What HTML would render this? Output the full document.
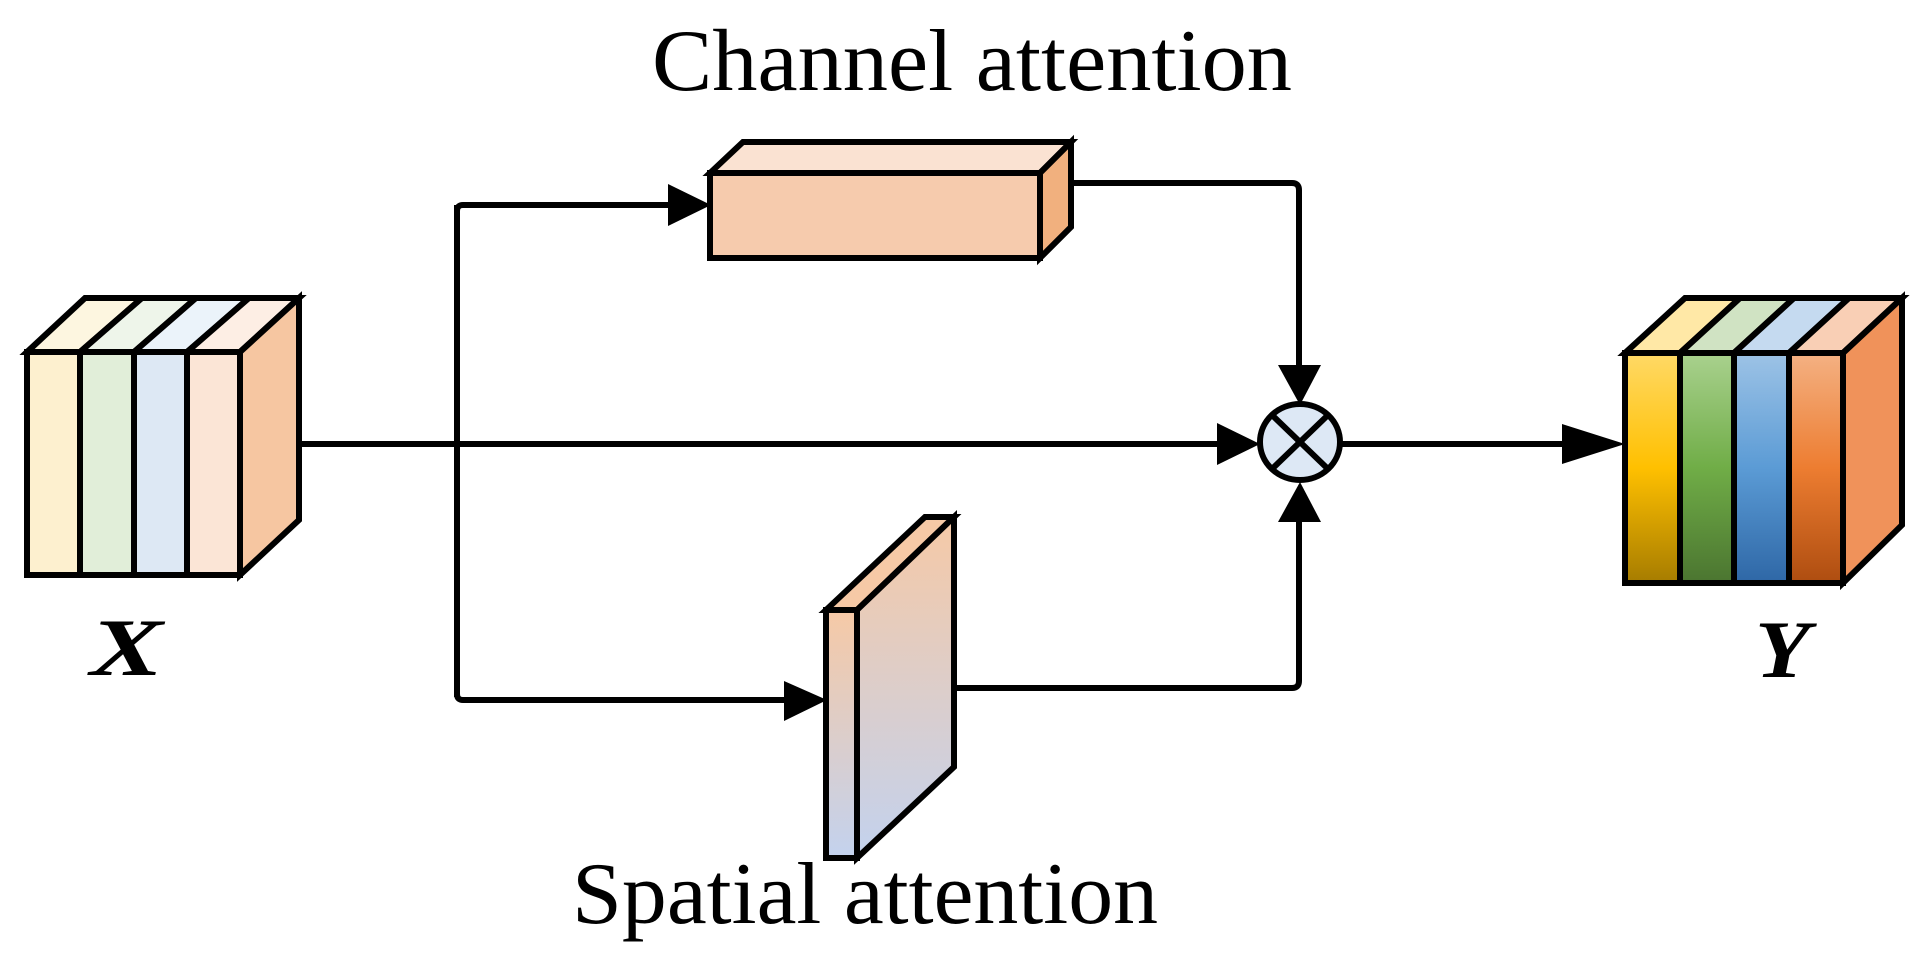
<!DOCTYPE html>
<html><head><meta charset="utf-8"><style>
html,body{margin:0;padding:0;background:#fff;width:1925px;height:975px;overflow:hidden}
svg{display:block}
text{font-family:"Liberation Serif",serif;fill:#000}
</style></head><body>
<svg width="1925" height="975" viewBox="0 0 1925 975" xmlns="http://www.w3.org/2000/svg">
<defs>
<linearGradient id="gy" x1="0" y1="0" x2="0" y2="1"><stop offset="0" stop-color="#ffd966"/><stop offset="0.5" stop-color="#ffc000"/><stop offset="1" stop-color="#a67c00"/></linearGradient>
<linearGradient id="gg" x1="0" y1="0" x2="0" y2="1"><stop offset="0" stop-color="#a9d18e"/><stop offset="0.5" stop-color="#70ad47"/><stop offset="1" stop-color="#4b7530"/></linearGradient>
<linearGradient id="gb" x1="0" y1="0" x2="0" y2="1"><stop offset="0" stop-color="#9dc3e6"/><stop offset="0.5" stop-color="#5b9bd5"/><stop offset="1" stop-color="#2e67a6"/></linearGradient>
<linearGradient id="go" x1="0" y1="0" x2="0" y2="1"><stop offset="0" stop-color="#f4b183"/><stop offset="0.5" stop-color="#ed7d31"/><stop offset="1" stop-color="#ae4d10"/></linearGradient>
<linearGradient id="gs" x1="0" y1="0" x2="0" y2="1"><stop offset="0" stop-color="#f6c9a6"/><stop offset="1" stop-color="#c3d2ee"/></linearGradient>
</defs>
<g stroke="#000" stroke-width="6" stroke-linejoin="miter">
<!-- X cube -->
<polygon points="27,352 85,298 142,298 80,352" fill="#fdf6e0"/>
<polygon points="80,352 142,298 196,298 134,352" fill="#eef5ea"/>
<polygon points="134,352 196,298 249,298 187,352" fill="#ebf3fa"/>
<polygon points="187,352 249,298 299,298 240,352" fill="#fdeee4"/>
<polygon points="240,352 299,298 299,520 240,575" fill="#f6c6a1"/>
<rect x="27" y="352" width="53" height="223" fill="#fdf0cf"/>
<rect x="80" y="352" width="54" height="223" fill="#e1eed9"/>
<rect x="134" y="352" width="53" height="223" fill="#dde8f4"/>
<rect x="187" y="352" width="53" height="223" fill="#fbe5d6"/>
<!-- Y cube -->
<polygon points="1625,353 1685,298 1740,298 1680,353" fill="#ffe8a6"/>
<polygon points="1680,353 1740,298 1794,298 1734,353" fill="#d0e3c3"/>
<polygon points="1734,353 1794,298 1849,298 1789,353" fill="#c5daf0"/>
<polygon points="1789,353 1849,298 1902,298 1843,353" fill="#f9cfb5"/>
<polygon points="1843,353 1902,298 1902,525 1843,583" fill="#f0925a"/>
<rect x="1625" y="353" width="55" height="230" fill="url(#gy)"/>
<rect x="1680" y="353" width="54" height="230" fill="url(#gg)"/>
<rect x="1734" y="353" width="55" height="230" fill="url(#gb)"/>
<rect x="1789" y="353" width="54" height="230" fill="url(#go)"/>
<!-- Channel box -->
<polygon points="710,173 743,142 1071,142 1040,173" fill="#fae2d2"/>
<polygon points="1040,173 1071,142 1071,227 1040,258" fill="#f1b07e"/>
<rect x="710" y="173" width="330" height="85" fill="#f6cbad"/>
<!-- Spatial plate -->
<polygon points="826,610 925,517 954,517 857,610" fill="#f6c9a6"/>
<polygon points="857,610 954,517 954,767 857,858" fill="url(#gs)"/>
<rect x="826" y="610" width="31" height="248" fill="url(#gs)"/>
<!-- connectors -->
<g fill="none">
<line x1="299" y1="444" x2="1225" y2="444"/>
<path d="M457,205 L457,697"/>
<path d="M668,205 L463,205 Q457,205 457,211"/>
<path d="M784,700 L463,700 Q457,700 457,694"/>
<path d="M1071,183 L1292,183 Q1299,183 1299,190 L1299,370"/>
<path d="M954,688 L1292,688 Q1299,688 1299,681 L1299,518"/>
<line x1="1340" y1="444" x2="1570" y2="444"/>
</g>
</g>
<!-- arrowheads -->
<g fill="#000">
<polygon points="668,184 711,205 668,226"/>
<polygon points="784,681 827,700 784,721"/>
<polygon points="1217,423 1260,444 1217,465"/>
<polygon points="1278,365 1321,365 1300,405"/>
<polygon points="1278,522 1321,522 1300,482"/>
<polygon points="1562,424 1625,444 1562,464"/>
</g>
<!-- multiply node -->
<g stroke="#000" stroke-width="6">
<ellipse cx="1300" cy="442" rx="40" ry="38" fill="#dde8f5"/>
<line x1="1272" y1="415" x2="1328" y2="469"/>
<line x1="1328" y1="415" x2="1272" y2="469"/>
</g>
<!-- labels -->
<text x="652" y="90" font-size="88" textLength="640" lengthAdjust="spacingAndGlyphs">Channel attention</text>
<text x="572" y="923" font-size="88" textLength="586" lengthAdjust="spacingAndGlyphs">Spatial attention</text>
<text x="90" y="675" font-size="82" font-weight="bold" font-style="italic" textLength="73" lengthAdjust="spacingAndGlyphs">X</text>
<text x="1755" y="677" font-size="82" font-weight="bold" font-style="italic" textLength="55" lengthAdjust="spacingAndGlyphs">Y</text>
</svg>
</body></html>
